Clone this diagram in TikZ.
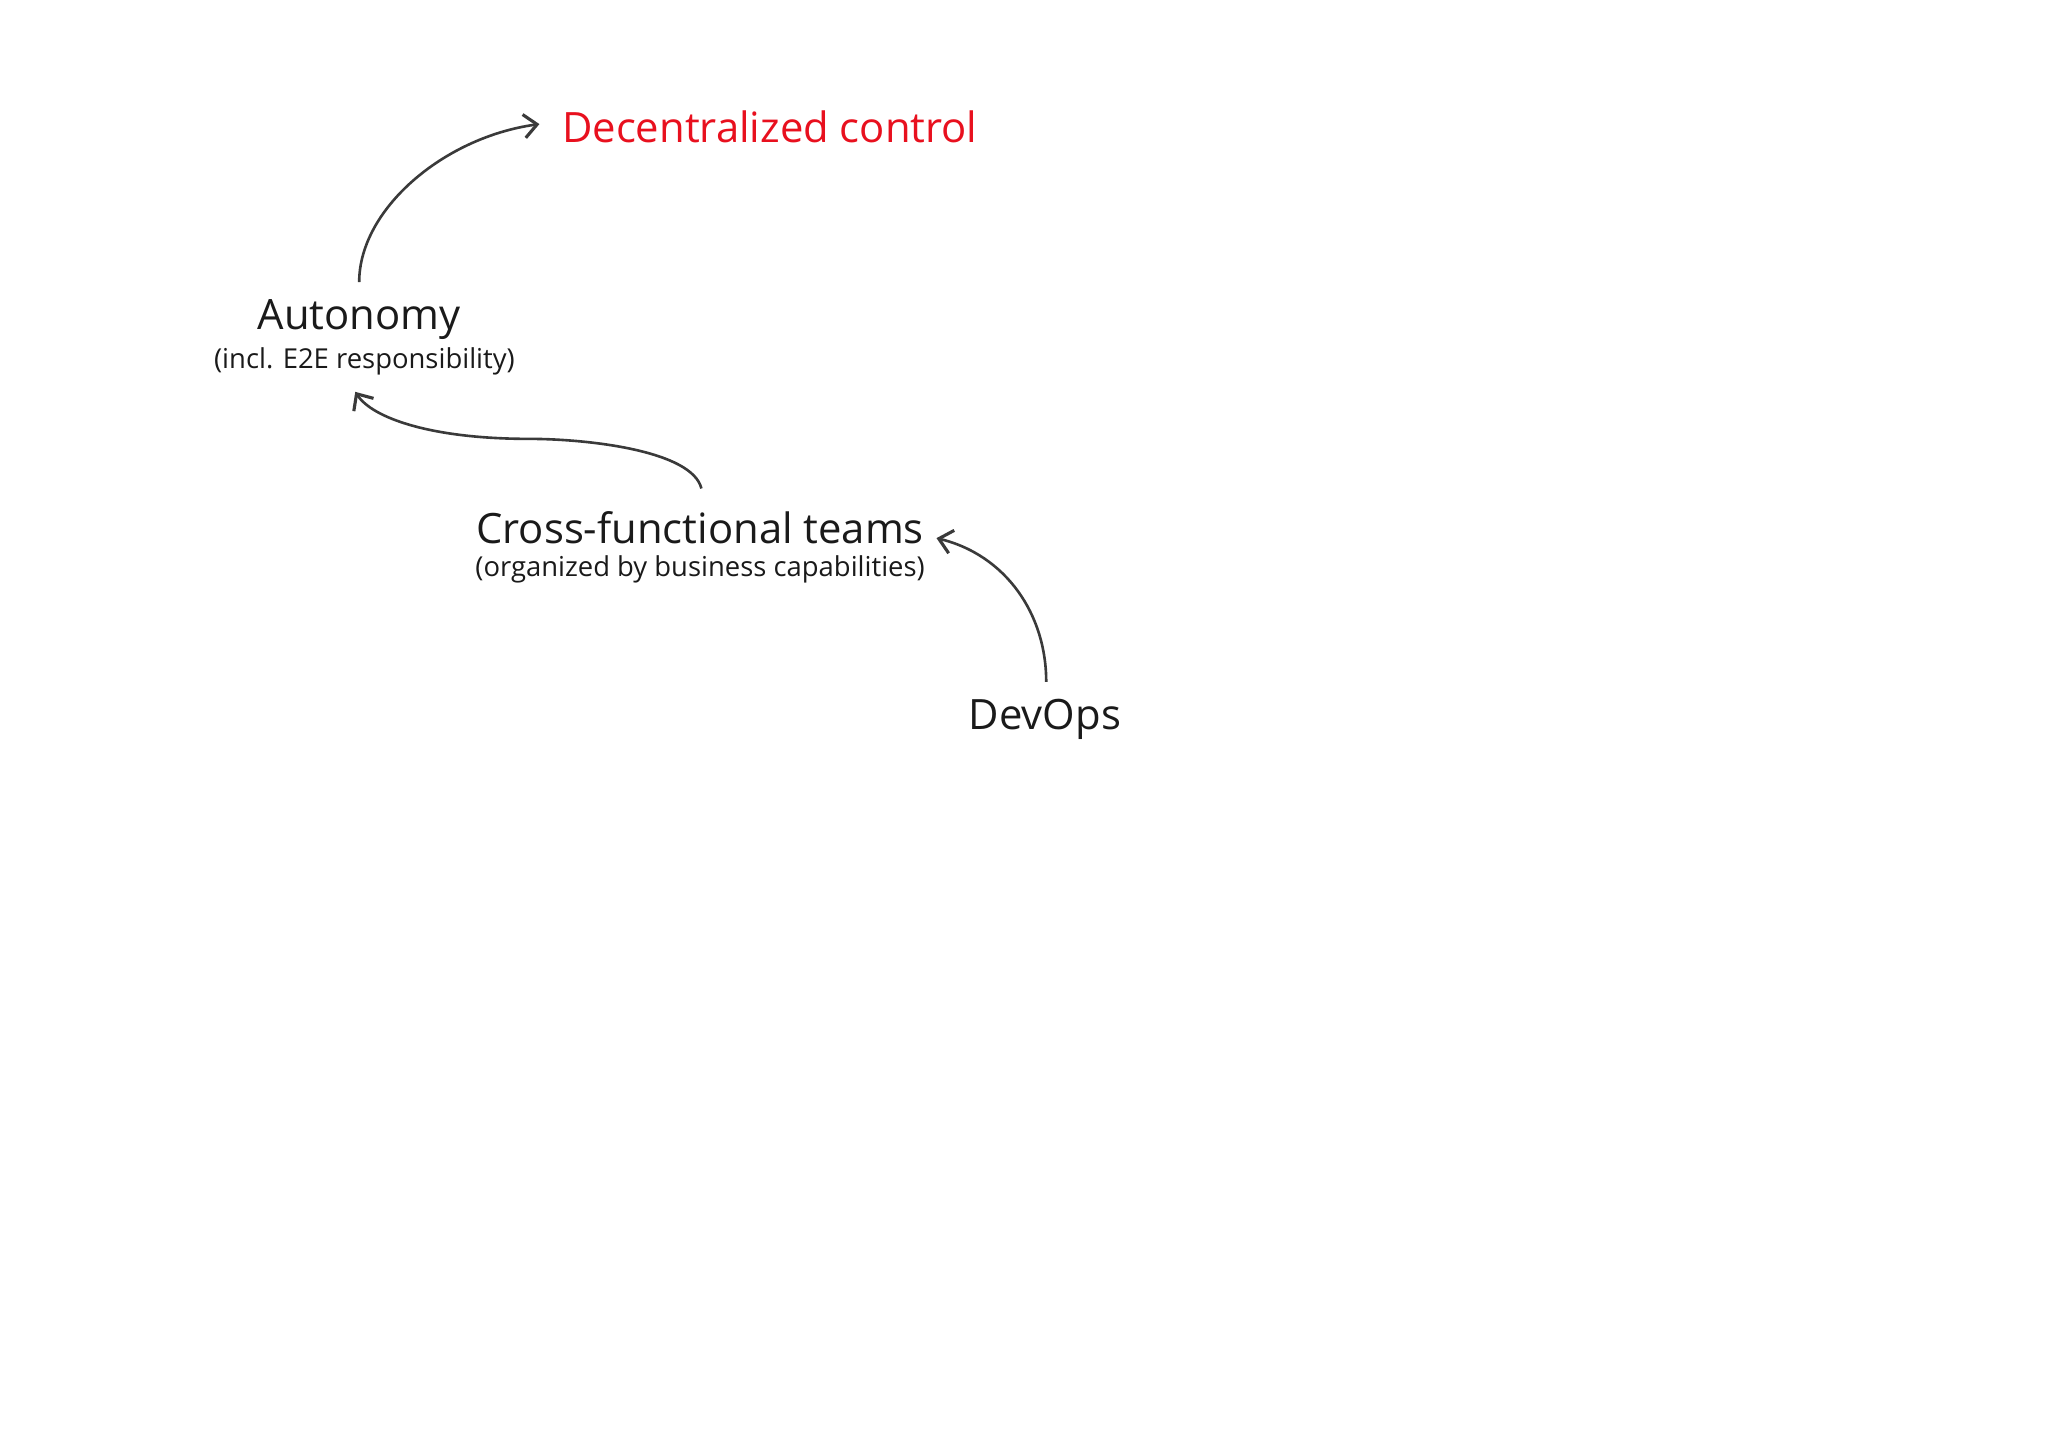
\documentclass[tikz,border=0pt]{standalone}
\usepackage{fontspec}
\setmainfont{Open Sans}
\usetikzlibrary{arrows.meta}
\definecolor{txt}{HTML}{1A1A1A}
\definecolor{red1}{HTML}{E8101E}
\definecolor{arr}{HTML}{3A3A3A}
\tikzset{
 main/.style={inner sep=0pt,font=\fontsize{16}{18}\selectfont,text=txt},
 sub/.style={inner sep=0pt,font=\fontsize{10.5}{12}\selectfont,text=txt},
 conn/.style={draw=arr,line width=1pt,-{Straight Barb[length=5pt,width=9pt,line width=1.2pt]}}
}
\begin{document}
\begin{tikzpicture}[x=0.5pt,y=-0.5pt]
\useasboundingbox (0,0) rectangle (1568,1110);
\node[main,text=red1,anchor=west] (dec) at (430,97) {Decentralized control};
\node[main] (aut) at (275,245) {Autonomy};
\node[sub] (auts) at (279,277) {(incl. E2E responsibility)};
\node[main] (cft) at (536,404) {Cross-functional teams};
\node[sub] (cfts) at (536,436) {(organized by business capabilities)};
\node[main] (dev) at (800,551) {DevOps};
\coordinate (a1) at (275,216);
\coordinate (a2) at (413,95);
\coordinate (b1) at (537,374);
\coordinate (b2) at (272,300);
\coordinate (c1) at (801,522);
\coordinate (c2) at (717,412);
\draw[conn] (a1) .. controls (275,160) and (340,105) .. (a2);
\draw[conn] (b1) .. controls (530,345) and (450,336) .. (405,336) .. controls (330,336) and (285,320) .. (b2);
\draw[conn] (c1) .. controls (801,470) and (770,425) .. (c2);
\end{tikzpicture}
\end{document}
